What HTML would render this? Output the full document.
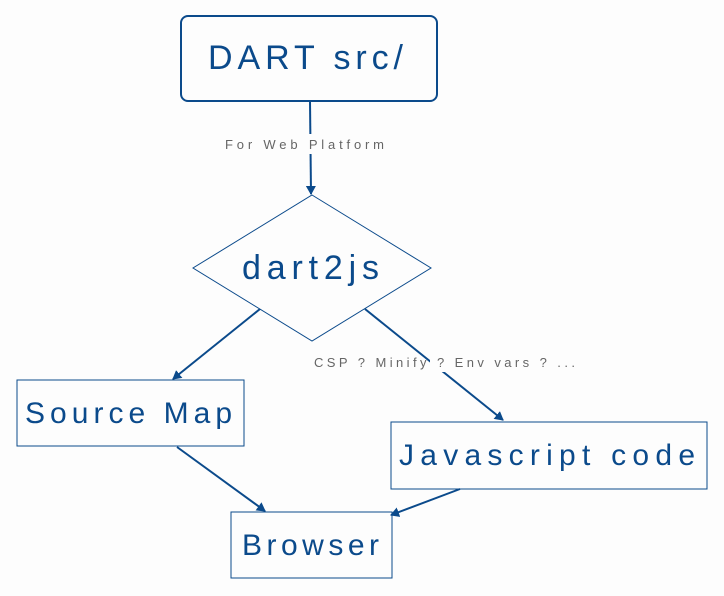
<!DOCTYPE html>
<html><head><style>
html,body{margin:0;padding:0;background:#fdfdfd;}
svg{display:block;font-family:"Liberation Sans",sans-serif;}
</style></head><body>
<svg width="724" height="596" viewBox="0 0 724 596" xmlns="http://www.w3.org/2000/svg">
<defs>
<marker id="a" markerWidth="10" markerHeight="10" refX="8" refY="5" orient="auto" markerUnits="userSpaceOnUse">
<path d="M0,0 L9,5 L0,10 z" fill="#0b4a8b"/></marker>
</defs>
<g stroke="#0b4a8b" fill="none">
<rect x="181" y="16" width="256" height="85" rx="7" stroke-width="2"/>
<polygon points="312,195 431,268 312,341 193,268" stroke-width="1"/>
<rect x="17" y="380" width="227" height="66" stroke-width="1"/>
<rect x="391" y="422" width="316" height="67" stroke-width="1"/>
<rect x="231" y="512" width="161" height="66" stroke-width="1"/>
<g stroke-width="2">
<line x1="310" y1="101" x2="311" y2="194" marker-end="url(#a)"/>
<line x1="260" y1="309" x2="173" y2="379" marker-end="url(#a)"/>
<line x1="365" y1="309" x2="503" y2="420" marker-end="url(#a)"/>
<line x1="177" y1="447" x2="265" y2="511" marker-end="url(#a)"/>
<line x1="460" y1="489" x2="391" y2="515" marker-end="url(#a)"/>
</g>
</g>
<rect x="222" y="134" width="168" height="20" fill="#fdfdfd"/>
<rect x="430" y="352" width="30" height="20" fill="#fdfdfd"/>
<g fill="#0b4a8b">
<text x="208" y="69" font-size="34" textLength="195" lengthAdjust="spacing">DART src/</text>
<text x="242" y="279" font-size="34" textLength="137" lengthAdjust="spacing">dart2js</text>
<text x="25" y="423" font-size="30" textLength="207" lengthAdjust="spacing">Source Map</text>
<text x="399" y="465" font-size="30" textLength="296" lengthAdjust="spacing">Javascript code</text>
<text x="242" y="555" font-size="30" textLength="137" lengthAdjust="spacing">Browser</text>
</g>
<g fill="#666" font-size="13">
<text x="225" y="149" textLength="159" lengthAdjust="spacing">For Web Platform</text>
<text x="314" y="367" textLength="261" lengthAdjust="spacing">CSP ? Minify ? Env vars ? ...</text>
</g>
</svg>
</body></html>
